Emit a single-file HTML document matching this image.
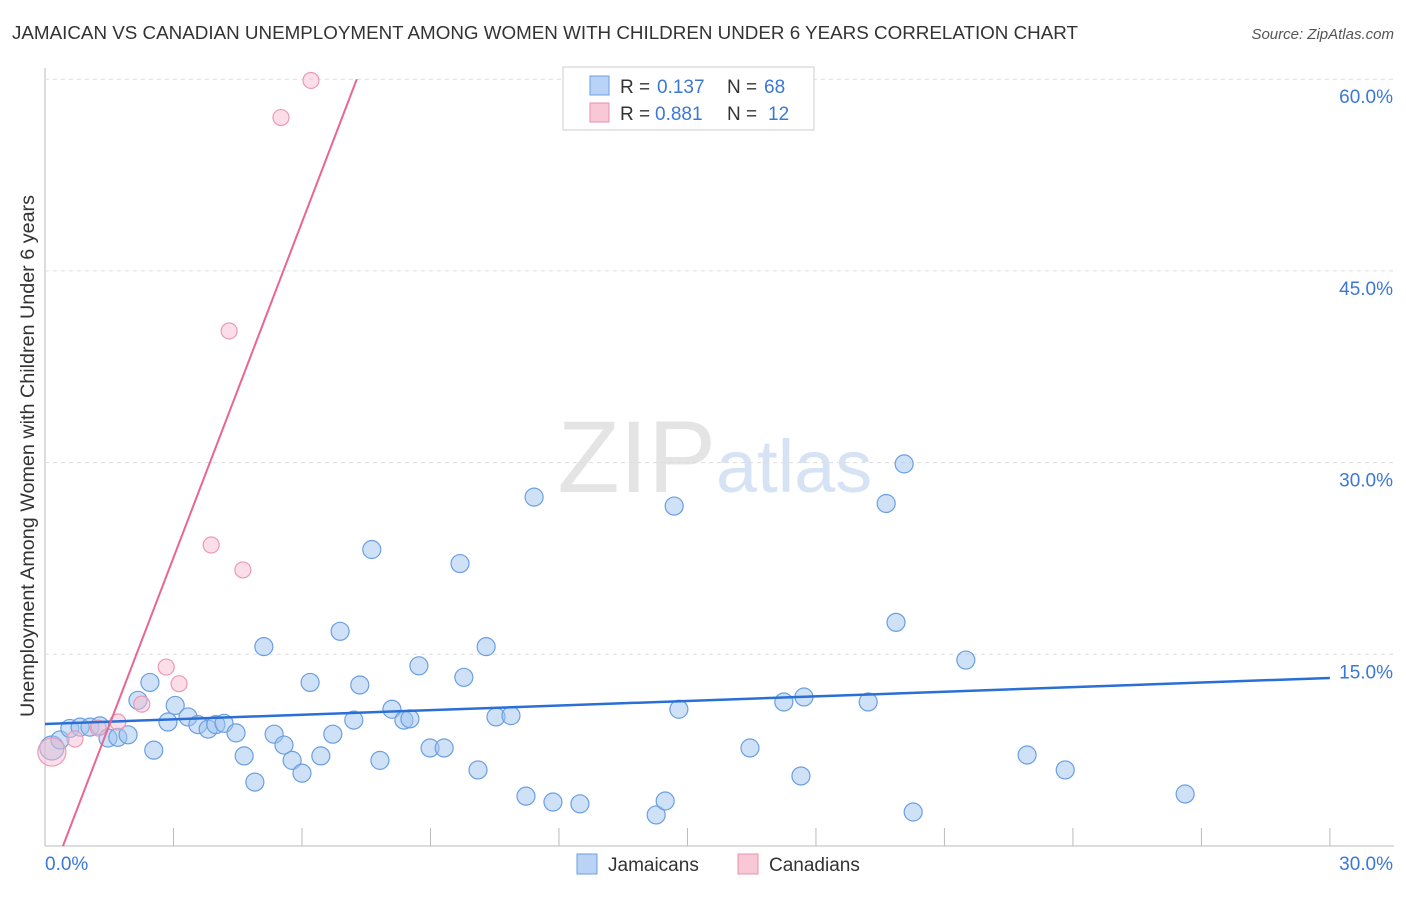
<!DOCTYPE html>
<html><head><meta charset="utf-8"><style>
body{margin:0;background:#fff;font-family:"Liberation Sans",sans-serif;}
svg text{font-family:"Liberation Sans",sans-serif;}
</style></head><body>
<svg id="chart" width="1406" height="892">
<text x="12" y="39" font-size="18" fill="#333" textLength="1066" lengthAdjust="spacingAndGlyphs">JAMAICAN VS CANADIAN UNEMPLOYMENT AMONG WOMEN WITH CHILDREN UNDER 6 YEARS CORRELATION CHART</text>
<text x="1394" y="39" font-size="15" fill="#555" font-style="italic" text-anchor="end">Source: ZipAtlas.com</text>
<text x="716" y="492" font-size="102" fill="#e4e4e4" text-anchor="end" font-family="Liberation Serif">ZIP</text>
<text x="716" y="492" font-size="74" fill="#d6e3f5">atlas</text>
<text transform="translate(34,456) rotate(-90)" font-size="19" fill="#333" text-anchor="middle" textLength="522" lengthAdjust="spacingAndGlyphs">Unemployment Among Women with Children Under 6 years</text>
<g id="grid"></g><g id="marks"></g>
<g>
<rect x="563" y="67" width="251" height="63" fill="#fff" stroke="#ccc"/>
<rect x="590" y="76" width="19" height="19" fill="#b8d3f5" stroke="#6a9fe0"/>
<text x="620" y="93" font-size="19" fill="#333">R =</text>
<text x="657" y="93" font-size="19" fill="#3b78d6">0.137</text>
<text x="727" y="93" font-size="19" fill="#333">N =</text>
<text x="764" y="93" font-size="19" fill="#3b78d6">68</text>
<rect x="590" y="103" width="19" height="19" fill="#f9c8d6" stroke="#e890aa"/>
<text x="620" y="120" font-size="19" fill="#333">R =</text>
<text x="655" y="120" font-size="19" fill="#3b78d6">0.881</text>
<text x="727" y="120" font-size="19" fill="#333">N =</text>
<text x="768" y="120" font-size="19" fill="#3b78d6">12</text>
</g>
<g>
<rect x="577" y="854" width="20" height="20" fill="#b8d3f5" stroke="#6a9fe0"/>
<text x="608" y="871" font-size="19" fill="#333">Jamaicans</text>
<rect x="738" y="854" width="20" height="20" fill="#f9c8d6" stroke="#e890aa"/>
<text x="769" y="871" font-size="19" fill="#333">Canadians</text>
</g>
</svg>
<script>
const xTicks=[0,30];
const yTicks=[15,30,45,60];
const blueX=[0.16,0.35,0.58,0.82,1.05,1.28,1.47,1.70,1.94,2.17,2.45,2.54,2.87,3.04,3.34,3.57,3.81,3.99,4.18,4.46,4.65,4.90,5.11,5.35,5.58,5.77,6.0,6.19,6.44,6.72,6.89,7.21,7.35,7.63,7.82,8.1,8.38,8.52,8.73,8.99,9.32,9.69,9.78,10.11,10.30,10.53,10.88,11.23,11.42,11.86,12.49,14.27,14.48,14.69,14.80,16.46,17.25,17.65,17.72,19.22,19.64,19.87,20.06,20.27,21.50,22.93,23.82,26.62];
const blueY=[7.67,8.3,9.2,9.3,9.3,9.4,8.45,8.5,8.7,11.4,12.8,7.5,9.7,11.0,10.1,9.5,9.15,9.5,9.6,8.85,7.05,5.0,15.6,8.75,7.9,6.7,5.7,12.8,7.05,8.75,16.8,9.85,12.6,23.2,6.7,10.7,9.85,9.95,14.1,7.67,7.67,22.1,13.2,5.95,15.6,10.1,10.2,3.9,27.3,3.44,3.3,2.43,3.52,26.6,10.7,7.67,11.27,5.48,11.66,11.27,26.8,17.5,29.9,2.66,14.55,7.12,5.95,4.07];
const pinkX=[0.16,0.70,1.24,1.70,2.26,2.83,3.13,3.88,4.30,4.62,5.51,6.21];
const pinkY=[7.35,8.37,9.23,9.7,11.1,14.0,12.7,23.55,40.3,21.6,57.0,59.9];
const blueFit=[9.55,0.12];
const pinkFit=[-3.67,8.746];
const X=v=>45+v*42.83, Y=v=>846-v*12.78;
const NS='http://www.w3.org/2000/svg';
function mk(t,a,p){const e=document.createElementNS(NS,t);for(const k in a)e.setAttribute(k,a[k]);p.appendChild(e);return e;}
const g=document.getElementById('grid'), m=document.getElementById('marks');
mk('line',{x1:45,y1:68,x2:45,y2:846,stroke:'#bbb'},g);
mk('line',{x1:45,y1:846,x2:1394,y2:846,stroke:'#bbb'},g);
for(let i=1;i<=10;i++){const l=mk('line',{x1:X(i*3),y1:828,x2:X(i*3),y2:846,stroke:'#bbb'},g);

}
yTicks.forEach(v=>{const l=mk('line',{x1:45,y1:Y(v),x2:1394,y2:Y(v),stroke:'#ddd','stroke-dasharray':'4,4'},g);


const t=mk('text',{x:1393,y:Y(v)+24,'font-size':19,fill:'#3b78d6','text-anchor':'end'},g);t.textContent=v.toFixed(1)+'%';

});
xTicks.forEach((v,i)=>{const t=mk('text',{x:i?1393:45,y:870,'font-size':19,fill:'#3b78d6','text-anchor':i?'end':'start'},g);t.textContent=v.toFixed(1)+'%';

});
blueX.forEach((v,i)=>{const c=mk('circle',{cx:X(v),cy:Y(blueY[i]),r:i==0?12:9,fill:'rgba(160,195,240,0.5)',stroke:'#6a9fe0','stroke-width':1.2},m);

});
pinkX.forEach((v,i)=>{const c=mk('circle',{cx:X(v),cy:Y(pinkY[i]),r:i==0?14:8,fill:'rgba(248,190,208,0.5)',stroke:'#ec9ab2','stroke-width':1.2},m);

});
const bl=mk('line',{x1:X(0),y1:Y(blueFit[0]),x2:X(30),y2:Y(blueFit[0]+blueFit[1]*30),stroke:'#2a6fd6','stroke-width':2.5},m);


const x0=-pinkFit[0]/pinkFit[1], x1=(60-pinkFit[0])/pinkFit[1];
const pl=mk('line',{x1:X(x0),y1:Y(0),x2:X(x1),y2:Y(60),stroke:'#e86690','stroke-width':2},m);


</script>
</body></html>
